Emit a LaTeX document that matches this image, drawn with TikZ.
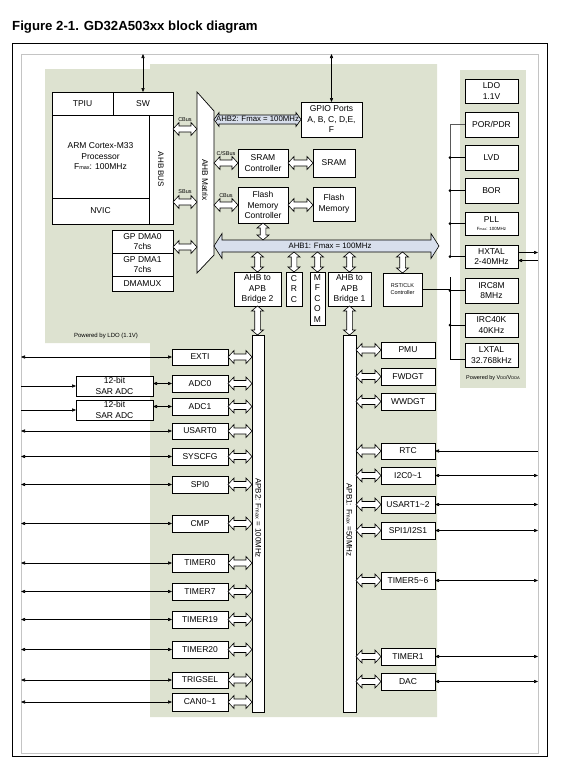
\documentclass[tikz,border=0pt]{standalone}
\usepackage{fontspec}
\setmainfont{Liberation Sans}
\usetikzlibrary{arrows.meta,calc}
\definecolor{pgreen}{RGB}{221,226,208}
\definecolor{busfill}{RGB}{216,223,236}
\definecolor{framegray}{RGB}{196,196,196}
\newcommand\arL{\pgfkeysvalueof{/tikz/aL}}
\newcommand\arH{\pgfkeysvalueof{/tikz/aH}}
\newcommand\arW{\pgfkeysvalueof{/tikz/aW}}
\newcommand\bx[7][]{\node[box,minimum width={#5-#3},minimum height={#6-#4},#1] (#2) at ({(#3+#5)/2},{(#4+#6)/2}) {#7};}
\newcommand\smx[1]{{\fontsize{5.5}{6}\selectfont #1}}
\tikzset{
 aL/.initial=6pt, aH/.initial=6.5pt, aW/.initial=3pt,
 box/.style={draw,fill=white,line width=0.7pt,inner sep=0pt,outer sep=0pt,align=center,font=\fontsize{8.5}{10.5}\selectfont},
 hollow/.style={draw,fill=white,line width=0.6pt,line join=miter},
 harr/.style={to path={let \p1=(\tikztostart),\p2=(\tikztotarget) in
   -- (\x1+\arL,\y1+\arH) -- (\x1+\arL,\y1+\arW) -- (\x2-\arL,\y1+\arW) -- (\x2-\arL,\y1+\arH) -- (\x2,\y1)
   -- (\x2-\arL,\y1-\arH) -- (\x2-\arL,\y1-\arW) -- (\x1+\arL,\y1-\arW) -- (\x1+\arL,\y1-\arH) -- cycle}},
 varr/.style={to path={let \p1=(\tikztostart),\p2=(\tikztotarget) in
   -- (\x1+\arH,\y1-\arL) -- (\x1+\arW,\y1-\arL) -- (\x1+\arW,\y2+\arL) -- (\x1+\arH,\y2+\arL) -- (\x1,\y2)
   -- (\x1-\arH,\y2+\arL) -- (\x1-\arW,\y2+\arL) -- (\x1-\arW,\y1-\arL) -- (\x1-\arH,\y1-\arL) -- cycle}},
 wire/.style={line width=0.6pt},
 >={Triangle[length=4pt,width=3.2pt]},
 lbl/.style={inner sep=0pt,outer sep=0pt,align=center},
 tiny5/.style={lbl,font=\fontsize{5.5}{6.5}\selectfont},
 bustext/.style={lbl,font=\fontsize{7.8}{8}\selectfont}
}
\begin{document}
\begin{tikzpicture}[x=1pt,y=-1pt]
\useasboundingbox (0,0) rectangle (570,780);
% title
\node[anchor=base west,inner sep=0pt,font=\bfseries\fontsize{13.2}{15}\selectfont] (title) at (12,30) {Figure 2-1. GD32A503xx block diagram};
% frames
\draw[line width=1pt] (12,43) rectangle (547,756);
\node[draw=framegray,line width=0.9pt,minimum width=517,minimum height=699,inner sep=0pt,outer sep=0pt] (frame) at (279.5,403.5) {};
% green regions
\fill[pgreen] (45,69) -- (150,69) -- (150,64) -- (437,64) -- (437,717) -- (150,717) -- (150,343) -- (45,343) -- cycle;
\fill[pgreen] (460,70) rectangle (526,388);
\node[lbl,font=\fontsize{6}{7}\selectfont] (pwrldo) at (106,336) {Powered by LDO (1.1V)};
\node[lbl,font=\fontsize{5.5}{6}\selectfont] (pwrvdd) at (493,378) {Powered by V{\fontsize{4}{4}\selectfont DD}/V{\fontsize{4}{4}\selectfont DDA}};
% processor block
\bx{tpiu}{52}{92}{113}{115}{TPIU}
\bx{sw}{113}{92}{173}{115}{SW}
\bx{cpu}{52}{115}{149}{198}{ARM Cortex-M33\\Processor\\F\smx{max}: 100MHz}
\bx{nvic}{52}{198}{149}{224}{NVIC}
\bx{ahbbus}{149}{115}{173}{224}{}
\node[lbl,rotate=-90,font=\fontsize{8}{8}\selectfont] (ahbbustxt) at (ahbbus.center) {AHB BUS};
\draw[wire,<->] (sw.north) -- (sw.north |- frame.north);
% DMA
\bx{dma0}{112}{230}{173}{253}{GP DMA0\\7chs}
\bx{dma1}{112}{253}{173}{276}{GP DMA1\\7chs}
\bx{dmamux}{112}{276}{173}{291}{DMAMUX}
% AHB matrix
\node[minimum width=17,minimum height=181,inner sep=0pt,outer sep=0pt] (mtx) at (205.5,182.5) {};
\draw[fill=white,line width=0.7pt] (mtx.north west) -- ([yshift=-19pt]mtx.north east) -- ([yshift=18pt]mtx.south east) -- (mtx.south west) -- cycle;
\node[lbl,rotate=-90,font=\fontsize{8.3}{8}\selectfont] (mtxtxt) at (205,180) {AHB Matrix};
% memories and GPIO
\bx{gpio}{301}{102}{362}{137}{GPIO Ports\\A, B, C, D,E,\\F}
\bx{sramc}{238}{149}{288}{177}{SRAM\\Controller}
\bx{sram}{313}{149}{355}{177}{SRAM}
\bx{flashc}{238}{187}{288}{223}{Flash\\Memory\\Controller}
\bx{flash}{313}{187}{355}{221}{Flash\\Memory}
\draw[wire,<->] (gpio.north) -- (gpio.north |- frame.north);
% bridges
\bx{bridge2}{234}{272}{281}{306}{AHB to\\APB\\Bridge 2}
\bx{crc}{286}{272}{302}{306}{C\\R\\C}
\bx{mfcom}{310}{272}{325}{325}{M\\F\\C\\O\\M}
\bx{bridge1}{328}{272}{371}{306}{AHB to\\APB\\Bridge 1}
\bx[font=\fontsize{5.5}{7}\selectfont]{rst}{383}{273}{422}{306}{RST/CLK\\Controller}
% hollow arrows top part
\draw[hollow] (ahbbus.east |- 0,129) to[harr] (mtx.west |- 0,129);
\draw[hollow] (ahbbus.east |- 0,202) to[harr] (mtx.west |- 0,202);
\draw[hollow] (dma0.east |- 0,247) to[harr] (mtx.west |- 0,247);
\draw[hollow] (mtx.east |- sramc.west) to[harr] (sramc.west);
\draw[hollow] (mtx.east |- flashc.west) to[harr] (flashc.west);
\draw[hollow] (sramc.east) to[harr] (sram.west);
\draw[hollow] (flashc.east) to[harr] (flash.west |- flashc.east);
\node[tiny5] (cbus1) at (185,120) {CBus};
\node[tiny5] (sbus1) at (185,192) {SBus};
\node[tiny5] (csbus) at (226,154) {C/SBus};
\node[tiny5] (cbus2) at (226,196) {CBus};
% AHB2 bus
\draw[hollow,fill=busfill,aL=5pt,aH=7pt,aW=4.5pt] (mtx.east |- gpio.west) to[harr] (gpio.west);
\node[bustext] (ahb2txt) at (257.5,119) {AHB2: Fmax = 100MHz};
% AHB1 bus
\coordinate (b1R) at (439,246);
\draw[hollow,fill=busfill,aL=8pt,aH=12.5pt,aW=6pt] (mtx.east |- b1R) to[harr] (b1R);
\node[bustext] (ahb1txt) at (330,246) {AHB1: Fmax = 100MHz};
\draw[hollow,aL=5pt,aH=6pt,aW=2.8pt] (flashc.south) to[varr] (flashc.south |- 0,240);
\foreach \q in {bridge2,crc,mfcom,bridge1,rst}
  \draw[hollow,aL=5pt,aH=6pt,aW=2.8pt] (\q.north |- 0,252) to[varr] (\q.north);
% APB buses
\bx{apb2}{252}{335}{264}{712}{}
\bx{apb1}{343}{335}{356}{712}{}
\node[lbl,rotate=-90,font=\fontsize{8}{8}\selectfont] (apb2txt) at (258.5,518) {APB2: F\smx{max} = 100MHz};
\node[lbl,rotate=-90,font=\fontsize{8}{8}\selectfont] (apb1txt) at (349.5,520) {APB1: F\smx{max} =50MHz};
\draw[hollow,aL=5pt,aH=6pt,aW=2.8pt] (bridge2.south) to[varr] (bridge2.south |- apb2.north);
\draw[hollow,aL=5pt,aH=6pt,aW=2.8pt] (bridge1.south) to[varr] (bridge1.south |- apb1.north);
% right column
\bx{ldo}{465}{79}{518}{103}{LDO\\1.1V}
\bx{por}{465}{112}{518}{137}{POR/PDR}
\bx{lvd}{465}{145}{518}{170}{LVD}
\bx{bor}{465}{178}{518}{203}{BOR}
\bx{pll}{465}{212}{518}{235}{PLL\\[-2pt]{\fontsize{4.5}{5}\selectfont F{\fontsize{3.5}{4}\selectfont max}: 100MHz}}
\bx{hxtal}{465}{245}{518}{268}{HXTAL\\2-40MHz}
\bx{irc8m}{465}{278}{518}{303}{IRC8M\\8MHz}
\bx{irc40k}{465}{313}{518}{337}{IRC40K\\40KHz}
\bx{lxtal}{465}{343}{518}{367}{LXTAL\\32.768kHz}
\coordinate (ck) at (450,124.5);
\coordinate (lx) at ([yshift=-4pt]lxtal.west);
\draw[wire,black!65] (por.west) -- (ck) -- (ck |- hxtal.west);
\draw[wire,line width=0.8pt] (ck |- 0,277) -- (ck |- lx) -- (lx);
\foreach \q in {lvd,bor,pll,hxtal,irc8m,irc40k}{
  \draw[wire] (ck |- \q.west) -- (\q.west);
  \fill (ck |- \q.west) circle (1.5pt);
}
\draw[wire] (rst.east) -- (ck |- rst.east);
\coordinate (hx1) at ([yshift=4pt]hxtal.east);
\coordinate (hx2) at ([yshift=-4pt]hxtal.east);
\draw[wire,->] (hx1) -- (frame.east |- hx1);
\draw[wire,<-] (hx2) -- (frame.east |- hx2);
% APB2 peripherals
\bx{exti}{172}{349}{228}{365}{EXTI}
\bx{adc0}{172}{375}{228}{392}{ADC0}
\bx{adc1}{172}{398}{228}{415}{ADC1}
\bx{usart0}{172}{423}{228}{439}{USART0}
\bx{syscfg}{172}{448}{228}{465}{SYSCFG}
\bx{spi0}{172}{476}{228}{493}{SPI0}
\bx{cmp}{172}{515}{228}{532}{CMP}
\bx{timer0}{172}{554}{228}{572}{TIMER0}
\bx{timer7}{172}{583}{228}{600}{TIMER7}
\bx{timer19}{172}{611}{228}{628}{TIMER19}
\bx{timer20}{172}{641}{228}{658}{TIMER20}
\bx{trigsel}{172}{672}{228}{688}{TRIGSEL}
\bx{can}{172}{693}{228}{711}{CAN0\textasciitilde 1}
\bx{sar0}{76}{376}{153}{396}{12-bit\\SAR ADC}
\bx{sar1}{76}{400}{153}{420}{12-bit\\SAR ADC}
\foreach \q in {exti,adc0,adc1,usart0,syscfg,spi0,cmp,timer0,timer7,timer19,timer20,trigsel,can}
  \draw[hollow] (\q.east) to[harr] (apb2.west |- \q.east);
\foreach \q in {exti,usart0,syscfg,spi0,cmp,timer0,timer7,timer19,timer20,trigsel,can}
  \draw[wire,<->] (frame.west |- \q.west) -- (\q.west);
\draw[wire,<->] (sar0.east |- adc0.west) -- (adc0.west);
\draw[wire,<->] (sar1.east |- adc1.west) -- (adc1.west);
\draw[wire,->] (frame.west |- sar0.west) -- (sar0.west);
\draw[wire,->] (frame.west |- sar1.west) -- (sar1.west);
% APB1 peripherals
\bx{pmu}{381}{342}{435}{358}{PMU}
\bx{fwdgt}{381}{368}{435}{385}{FWDGT}
\bx{wwdgt}{381}{393}{435}{410}{WWDGT}
\bx{rtc}{381}{443}{435}{459}{RTC}
\bx{i2c}{381}{467}{435}{484}{I2C0\textasciitilde 1}
\bx{usart12}{381}{496}{435}{513}{USART1\textasciitilde 2}
\bx{spi1}{381}{522}{435}{539}{SPI1/I2S1}
\bx{timer56}{381}{572}{435}{589}{TIMER5\textasciitilde 6}
\bx{timer1}{381}{648}{435}{665}{TIMER1}
\bx{dac}{381}{673}{435}{690}{DAC}
\foreach \q in {pmu,fwdgt,wwdgt,rtc,i2c,usart12,spi1,timer56,timer1,dac}
  \draw[hollow] (apb1.east |- \q.west) to[harr] (\q.west);
\draw[wire,<-] (rtc.east) -- (frame.east |- rtc.east);
\foreach \q in {i2c,usart12,spi1,timer56,timer1,dac}
  \draw[wire,<->] (\q.east) -- (frame.east |- \q.east);
\end{tikzpicture}
\end{document}
